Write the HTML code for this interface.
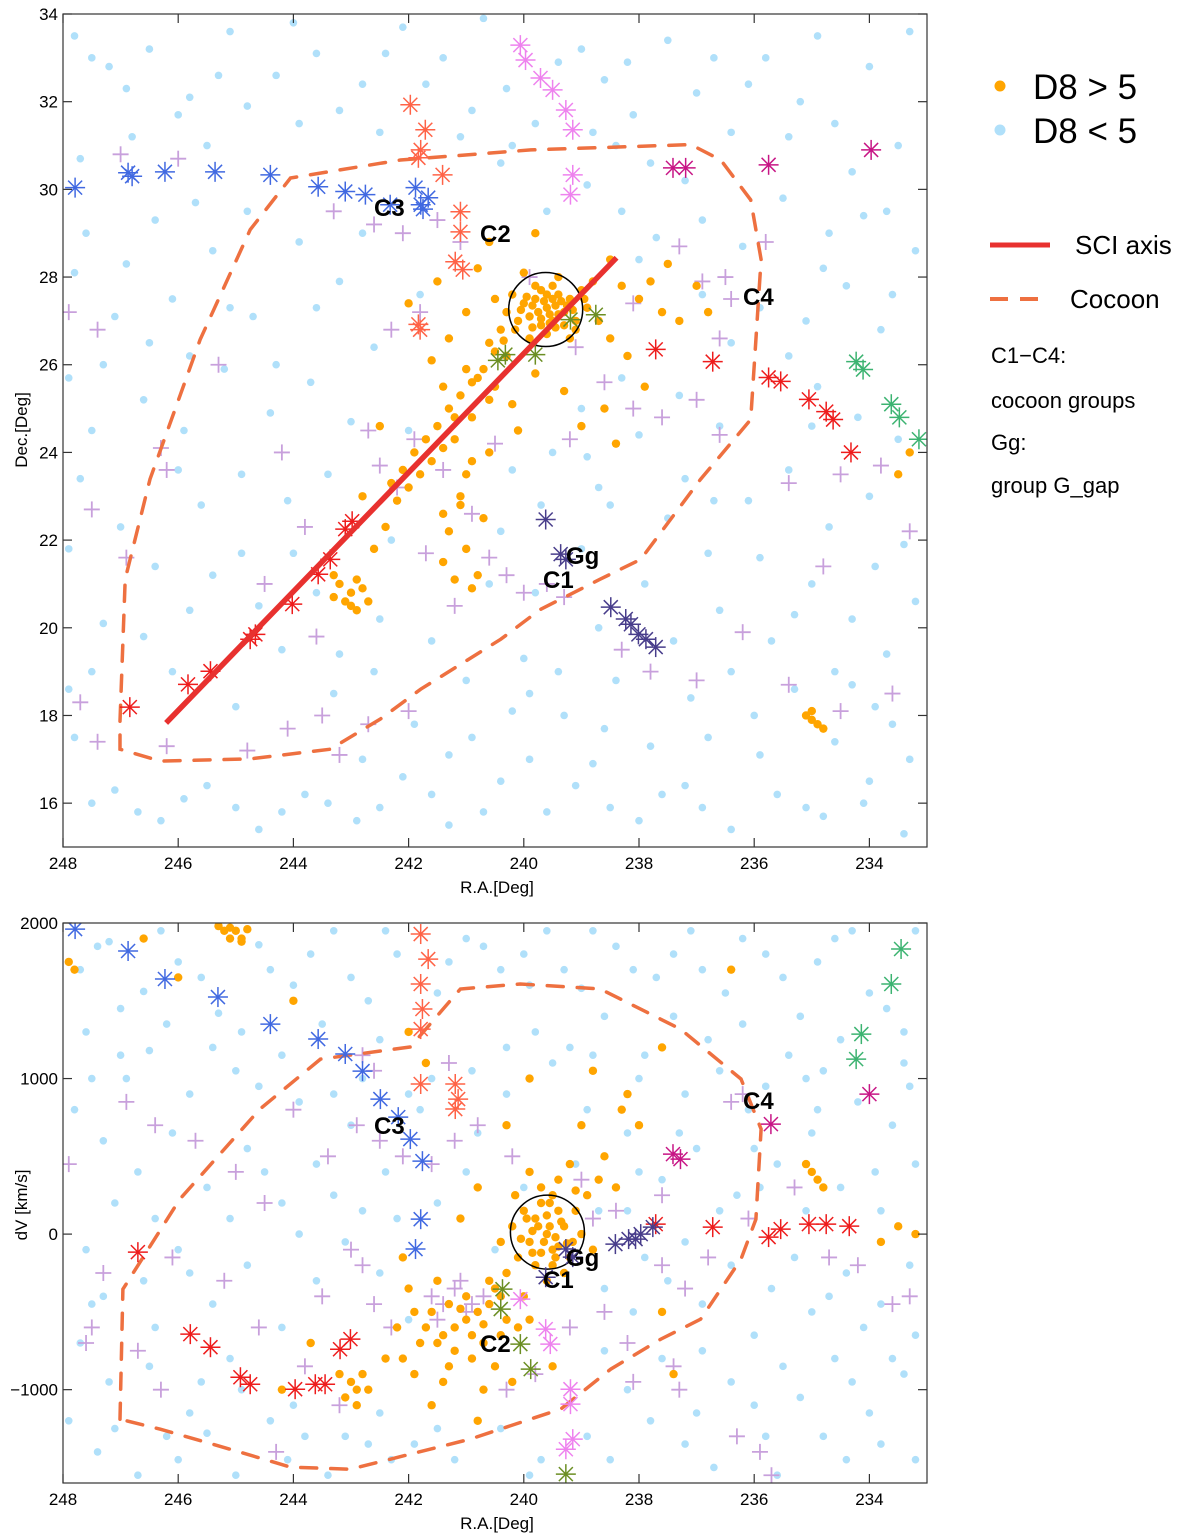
<!DOCTYPE html>
<html><head><meta charset="utf-8">
<style>
html,body{margin:0;padding:0;background:#fff;}
svg{display:block;font-family:"Liberation Sans",Arial,sans-serif;}
</style></head>
<body>
<svg id="fig" width="1200" height="1537" viewBox="0 0 1200 1537" xmlns="http://www.w3.org/2000/svg">
<g id="top"></g>
<g id="bot"></g>
<g id="legend">
  <circle cx="1000" cy="86" r="5.5" fill="#ffa500"/>
  <text x="1033" y="99" font-size="35">D8 &gt; 5</text>
  <circle cx="1000" cy="130" r="5.5" fill="#b0e0fa"/>
  <text x="1033" y="143" font-size="35">D8 &lt; 5</text>
  <line x1="990" y1="245" x2="1050" y2="245" stroke="#e8312f" stroke-width="5"/>
  <text x="1075" y="254" font-size="26">SCI axis</text>
  <line x1="990" y1="299" x2="1050" y2="299" stroke="#ee7040" stroke-width="4" stroke-dasharray="18,12"/>
  <text x="1070" y="308" font-size="26">Cocoon</text>
  <text x="991" y="363" font-size="22">C1−C4:</text>
  <text x="991" y="408" font-size="22">cocoon groups</text>
  <text x="991" y="450" font-size="22">Gg:</text>
  <text x="991" y="493" font-size="22">group G_gap</text>
</g>
</svg>
<script>
// ---------- data: top panel (R.A., Dec) ----------
const topBlue = [[247.8,33.5],[247.2,32.8],[246.5,33.2],[245.8,32.1],[245.1,33.6],[244.3,32.6],[243.6,33.1],[242.8,32.4],[242.1,33.7],[241.4,33.0],[240.7,33.9],[240.3,32.3],[239.8,31.5],[239.0,33.2],[238.6,32.5],[238.1,31.7],[237.5,33.4],[237.0,32.2],[236.4,31.3],[235.8,33.0],[235.2,32.0],[234.6,31.5],[234.0,32.8],[233.5,31.0],[233.3,33.6],[238.9,30.1],[238.3,29.5],[237.7,28.9],[238.0,28.4],[236.9,29.3],[236.2,28.7],[235.5,29.8],[234.8,28.2],[234.1,29.4],[233.6,27.6],[247.6,29.0],[246.9,28.3],[246.1,27.5],[245.4,28.6],[244.7,27.1],[243.9,28.8],[243.2,27.9],[242.6,26.4],[247.3,26.0],[246.6,25.2],[245.9,24.5],[245.2,25.9],[244.4,24.9],[243.7,25.6],[243.0,24.7],[247.7,23.4],[247.0,22.3],[246.4,21.4],[245.6,22.8],[244.9,21.7],[244.1,22.9],[243.4,23.5],[242.0,24.5],[242.3,22.0],[239.5,24.0],[238.7,23.2],[238.0,24.4],[237.3,25.3],[236.6,24.6],[237.5,22.5],[236.8,21.7],[236.1,22.9],[235.4,23.6],[234.7,22.3],[234.0,23.0],[233.4,21.9],[235.0,21.0],[234.3,20.2],[233.7,19.4],[235.7,19.7],[236.4,19.0],[237.1,18.4],[236.0,18.0],[235.3,18.6],[234.6,17.4],[233.9,18.2],[233.3,17.0],[239.0,21.8],[239.8,20.8],[240.6,21.0],[238.5,22.8],[240.0,19.3],[241.0,18.8],[241.6,19.7],[242.6,19.0],[243.3,18.5],[244.2,19.5],[245.0,18.2],[245.8,20.4],[246.6,19.8],[247.5,19.0],[247.8,17.5],[247.1,16.3],[246.3,15.6],[245.5,16.4],[244.6,15.4],[243.8,16.2],[242.9,15.6],[242.1,16.6],[241.3,15.5],[240.4,16.5],[239.6,15.8],[238.8,16.9],[238.0,15.6],[237.2,16.4],[236.4,15.4],[235.6,16.2],[234.8,15.7],[234.0,16.5],[233.4,15.3],[239.3,18.0],[238.4,18.8],[237.8,17.3],[240.9,17.5],[241.9,17.8],[242.5,20.2],[239.7,22.8],[240.2,23.6],[236.9,27.6],[236.4,26.5],[235.1,27.0],[234.4,27.8],[233.8,26.8],[235.0,24.6],[243.6,20.8],[244.6,20.5],[246.0,23.6],[242.8,29.0],[241.8,27.6],[240.4,30.6],[239.6,29.5],[240.9,31.8],[242.5,31.3],[243.9,31.5],[245.5,31.0],[246.8,31.2],[247.7,30.7],[237.2,30.2],[238.4,31.0],
[247.5,33.0],[246.9,32.3],[246.0,31.7],[245.3,32.6],[244.8,31.9],[244.0,33.8],[243.2,31.8],[242.4,33.1],[241.7,32.4],[241.1,31.2],[240.2,31.0],[239.4,32.9],[238.8,31.3],[238.2,32.9],[237.8,30.6],[236.7,33.0],[236.1,32.4],[235.4,31.2],[234.9,33.5],[234.3,30.4],[233.7,29.5],[233.2,28.6],[234.7,29.0],[235.9,27.3],[235.4,26.2],[234.9,25.5],[234.2,24.8],[233.5,24.3],[233.9,21.4],[233.2,20.6],[234.6,19.0],[235.3,20.3],[235.9,21.6],[236.6,20.4],[237.4,19.7],[236.8,17.5],[235.9,17.1],[234.3,18.7],[233.6,17.8],[234.1,16.0],[235.1,15.9],[236.9,15.9],[237.6,16.2],[238.5,15.9],[239.1,16.4],[239.9,17.0],[240.7,15.8],[241.6,16.2],[242.5,15.9],[243.4,16.0],[244.2,15.8],[245.0,15.9],[245.9,16.1],[246.7,15.8],[247.5,16.0],[247.9,18.6],[247.3,20.1],[247.9,21.8],[247.5,24.5],[247.9,25.7],[247.1,27.1],[247.8,28.1],[246.4,29.3],[245.7,29.7],[244.8,29.5],[246.5,26.5],[245.8,26.2],[245.1,27.3],[244.3,26.0],[243.6,27.3],[244.9,23.5],[245.4,21.2],[246.1,19.0],[244.0,21.7],[243.2,19.4],[242.8,17.0],[241.3,17.1],[240.2,18.1],[239.4,19.0],[238.7,20.0],[237.9,21.0],[238.9,23.9],[238.3,25.7],[239.0,25.0],[237.2,23.4],[236.7,22.9],[240.4,22.2],[239.9,18.5],[238.6,17.7]];
const topOrange = [[239.6,27.3],[239.8,27.5],[239.4,27.6],[239.5,27.0],[239.9,27.1],[239.3,27.2],[239.7,26.9],[239.2,27.5],[240.0,27.4],[239.5,27.8],[239.8,27.8],[239.3,26.9],[240.1,27.0],[239.6,26.7],[239.1,27.0],[240.2,27.6],[239.4,28.0],[239.0,27.7],[238.9,27.3],[240.3,27.2],[239.9,26.6],[239.2,26.6],[240.4,26.8],[240.5,27.5],[240.0,28.1],[238.8,27.9],[238.7,27.0],[240.6,26.5],[240.3,26.2],[240.7,25.9],[240.9,25.6],[241.1,25.3],[241.3,25.0],[241.5,24.6],[241.7,24.3],[241.9,24.0],[242.1,23.6],[242.3,23.3],[242.0,23.2],[241.6,23.8],[241.2,24.3],[240.9,24.8],[241.4,25.5],[240.5,25.5],[240.2,25.1],[241.0,23.5],[241.1,22.8],[241.3,22.2],[241.0,21.8],[240.8,21.2],[241.4,21.5],[240.7,22.5],[243.2,21.0],[243.0,20.8],[242.9,21.1],[243.1,20.6],[242.8,20.9],[243.3,20.7],[242.6,21.8],[242.4,22.3],[235.0,17.9],[234.9,17.8],[235.1,18.0],[234.8,17.7],[235.0,18.1],[238.3,27.8],[238.0,27.5],[237.8,27.9],[237.6,27.2],[237.3,27.0],[238.5,26.6],[238.2,26.2],[237.9,25.5],[238.6,25.0],[239.0,24.6],[239.8,25.8],[240.1,24.5],[238.5,28.4],[241.0,27.2],[241.3,26.6],[241.6,26.1],[240.8,28.2],[241.5,27.9],[242.0,27.4],[240.6,28.8],[239.8,29.0],[237.5,28.3],[237.0,27.8],[236.8,27.2],[238.4,24.2],[239.3,25.4],[240.6,24.0],[242.5,24.6],[242.8,23.0],[233.3,24.0],[233.5,23.5],
[239.55,27.15],[239.65,27.45],[239.45,27.35],[239.75,27.2],[239.35,27.45],[239.85,27.35],[239.6,27.6],[239.7,27.05],[239.45,26.85],[239.25,27.35],[239.95,27.55],[239.55,26.95],[239.85,26.85],[239.15,27.25],[240.05,27.25],[239.4,27.15],[239.7,27.7],[239.5,27.5],[240.15,26.8],[239.1,26.8],[238.95,27.5],[240.35,26.55],[240.5,26.3],[240.8,25.7],[241.0,25.9],[240.6,25.2],[241.2,24.8],[241.4,24.1],[241.8,23.5],[242.2,22.9],[241.1,23.0],[241.2,21.1],[240.9,20.9],[241.4,22.6],[240.9,23.8],[243.0,20.5],[242.7,20.6],[243.3,21.2],[242.9,20.4]];
const topLav = [[247.9,27.2],[247.4,26.8],[246.3,24.1],[247.5,22.7],[246.9,21.6],[247.7,18.3],[247.4,17.4],[246.2,23.6],[245.3,26.0],[244.2,24.0],[243.6,19.8],[243.8,22.3],[244.5,21.0],[243.5,18.0],[242.3,26.8],[242.6,29.2],[242.1,29.0],[241.5,29.3],[241.1,28.8],[242.7,24.5],[242.5,23.7],[242.2,23.2],[241.9,24.3],[241.4,23.6],[240.9,22.6],[240.6,21.6],[240.3,21.2],[239.2,24.3],[238.6,25.6],[238.1,25.0],[237.6,24.8],[237.0,25.2],[236.6,26.6],[236.9,27.9],[236.4,27.5],[237.3,28.7],[236.5,28.0],[235.8,28.8],[236.6,24.4],[235.4,23.3],[234.5,23.5],[233.8,23.7],[233.3,22.2],[234.8,21.4],[236.2,19.9],[237.0,18.8],[237.8,19.0],[238.3,19.5],[235.4,18.7],[234.5,18.1],[233.6,18.5],[242.0,18.1],[242.7,17.8],[243.2,17.1],[244.1,17.7],[244.8,17.2],[246.2,17.3],[241.7,21.7],[241.2,20.5],[240.0,20.8],[239.6,21.0],[239.3,20.7],[240.5,24.2],[239.1,26.4],[238.1,27.4],[239.9,28.0],[241.8,27.2],[243.3,29.5],[247.0,30.8],[246.0,30.7]];
const topGroups = [
 {name:'c3-blue',color:'#4169e1',pts:[[247.79,30.04],[246.87,30.38],[246.80,30.30],[246.23,30.40],[245.36,30.40],[244.40,30.33],[243.57,30.06],[243.10,29.95],[242.75,29.88],[242.32,29.65],[241.88,30.04],[241.79,29.65],[241.66,29.81],[241.75,29.55]]},
 {name:'c2-tomato',color:'#ff6347',pts:[[241.97,31.93],[241.71,31.36],[241.79,30.90],[241.83,30.72],[241.41,30.33],[241.10,29.49],[241.10,29.03],[241.19,28.35],[241.06,28.17],[241.83,26.92],[241.80,26.80]]},
 {name:'red-group',color:'#ee1c1c',pts:[[246.84,18.19],[245.83,18.71],[245.44,19.01],[244.75,19.74],[244.66,19.85],[244.02,20.54],[243.57,21.22],[243.36,21.56],[243.10,22.25],[242.98,22.43],[237.71,26.35],[236.72,26.07],[235.75,25.71],[235.54,25.62],[235.05,25.21],[234.75,24.93],[234.63,24.75],[234.32,24.00]]},
 {name:'violet-group',color:'#ee82ee',pts:[[240.06,33.29],[239.97,32.95],[239.71,32.54],[239.50,32.27],[239.27,31.81],[239.15,31.36],[239.15,30.33],[239.19,29.88]]},
 {name:'magenta-group',color:'#c71585',pts:[[237.41,30.49],[237.19,30.49],[235.75,30.56],[233.97,30.90]]},
 {name:'gg-purple',color:'#483d8b',pts:[[239.62,22.47],[239.36,21.68],[239.27,21.56],[238.49,20.47],[238.23,20.20],[238.14,20.08],[238.01,19.85],[237.88,19.74],[237.71,19.56]]},
 {name:'olive-group',color:'#6b8e23',pts:[[240.32,26.23],[240.45,26.1],[239.80,26.23],[239.19,27.03],[238.75,27.14]]},
 {name:'green-group',color:'#3cb371',pts:[[234.23,26.07],[234.11,25.89],[233.62,25.10],[233.48,24.80],[233.14,24.30]]}
];
const topCocoonRA = [247.01,246.92,246.49,245.62,244.75,244.05,242.14,239.88,237.10,236.58,236.06,235.88,235.97,236.06,236.93,237.97,238.67,239.71,240.40,241.79,242.49,243.36,244.75,246.31,247.01,247.01];
const topCocoonDec = [17.87,21.11,23.39,26.57,29.08,30.26,30.67,30.90,31.02,30.67,29.76,28.40,26.57,24.75,23.39,21.56,21.11,20.42,19.74,18.60,17.92,17.23,17.01,16.96,17.23,17.87];
const sciRA = [246.21,238.39];
const sciDec = [17.83,28.44];
const topTicksX = [248,246,244,242,240,238,236,234];
const topTicksY = [16,18,20,22,24,26,28,30,32,34];

// ---------- data: bottom panel (R.A., dV) ----------
const botBlue = [[247.7,1700],[247.2,1880],[246.6,1560],[246.0,1750],[245.3,1420],[244.6,1860],[244.0,1600],[243.3,1950],[242.7,1500],[242.2,1800],[241.0,1900],[240.4,1700],[239.6,1950],[239.0,1580],[238.4,1850],[237.7,1650],[237.1,1950],[236.5,1550],[235.8,1800],[235.2,1400],[234.6,1900],[234.0,1550],[233.4,1300],[233.2,1950],[247.6,1300],[247.0,1150],[246.5,1180],[245.0,1050],[244.2,1150],[243.5,1350],[242.5,1250],[239.8,1300],[239.2,1200],[238.6,1400],[237.9,1150],[237.4,1400],[236.8,1250],[236.2,1350],[235.4,1150],[234.8,1050],[234.2,850],[233.6,700],[233.3,950],[247.8,800],[247.3,600],[246.7,400],[246.1,650],[245.5,300],[244.8,550],[244.2,200],[243.6,450],[243.0,700],[242.4,400],[241.5,200],[240.8,650],[240.3,900],[238.9,800],[238.2,650],[237.6,350],[237.0,550],[236.3,250],[235.6,450],[235.1,150],[234.5,300],[233.8,150],[233.2,450],[247.6,-100],[247.3,-400],[246.6,-300],[246.0,-100],[245.4,-450],[244.8,-200],[244.2,-600],[243.6,-300],[243.1,-50],[242.5,-250],[242.0,-550],[238.6,-350],[238.1,-500],[237.5,-300],[236.9,-450],[236.4,-200],[235.7,-350],[235.0,-500],[234.4,-250],[233.8,-450],[233.3,-200],[247.7,-700],[247.2,-950],[246.5,-850],[245.8,-1150],[245.1,-800],[244.4,-1200],[243.8,-1300],[242.5,-1150],[241.9,-1350],[241.2,-1450],[240.4,-1250],[239.7,-1450],[238.9,-1300],[238.2,-1000],[237.6,-800],[237.0,-1150],[236.4,-950],[235.8,-1300],[235.2,-1050],[234.6,-800],[234.0,-1150],[233.4,-900],[233.2,-1450],[236.7,-1500],[235.6,-1550],[234.4,-1450],[247.4,-1400],[246.7,-1550],[246.2,-1300],[245.5,-1280],[244.9,-1000],[240.0,300],[239.1,450],[238.7,150],[241.8,800],[242.8,1000],[245.8,900],[246.9,1000],[243.9,850],[236.1,800],[235.0,650],[239.9,1600],[241.5,1550],[244.9,1300],
[247.4,1850],[246.3,1950],[245.6,1650],[244.4,1700],[243.7,1800],[243.0,1650],[242.4,1950],[241.3,1750],[240.7,1850],[240.0,1800],[239.3,1700],[238.8,1950],[238.1,1700],[237.4,1800],[236.9,1700],[236.2,1900],[235.5,1650],[234.9,1750],[234.3,1950],[233.7,1450],[233.4,1100],[234.5,1250],[235.1,1000],[235.8,950],[236.6,1050],[237.2,900],[238.0,1000],[238.8,1150],[239.5,1100],[240.3,1200],[240.9,1050],[241.6,1000],[242.0,900],[243.3,900],[244.6,950],[245.4,1200],[246.2,1350],[247.0,1450],[247.5,1000],[247.1,200],[246.4,100],[245.8,-250],[245.1,100],[244.5,400],[243.9,0],[243.3,250],[242.8,150],[242.2,100],[241.0,400],[240.5,-100],[238.2,150],[237.9,-150],[237.2,-50],[236.6,150],[235.9,300],[235.3,-150],[234.7,-400],[234.1,-600],[233.6,-800],[233.2,-650],[234.3,-950],[235.5,-850],[236.0,-650],[236.9,-750],[237.8,-1200],[238.5,-1450],[239.9,-1550],[241.5,-1250],[242.3,-1450],[243.1,-1300],[244.0,-1100],[245.6,-950],[246.4,-600],[247.5,-450],[247.9,-1200],[247.1,-1250],[246.0,-1450],[245.0,-1550],[244.1,-1450],[243.4,-1550],[242.7,-1350],[238.6,-750],[237.2,-1350],[236.0,-1100],[234.8,-1300],[233.8,-1350],[238.0,400],[237.3,650],[236.0,550],[234.9,800],[233.9,400]];
const botOrange = [[239.6,0],[239.8,100],[239.4,150],[239.5,-100],[239.9,-50],[239.3,50],[239.7,200],[239.2,-150],[240.0,150],[239.5,250],[239.8,-200],[239.3,-250],[240.1,-150],[239.6,-300],[239.1,150],[240.2,50],[239.4,350],[239.0,0],[238.9,250],[240.3,-250],[239.9,400],[239.2,450],[240.4,-50],[240.5,-350],[240.0,-400],[238.8,-100],[238.7,350],[240.6,-450],[240.8,-500],[241.0,-550],[241.2,-600],[241.4,-650],[241.6,-500],[241.8,-700],[241.0,-400],[240.7,-700],[240.9,-800],[241.3,-850],[241.5,-300],[242.0,-350],[242.2,-600],[242.4,-800],[241.9,-900],[240.4,-650],[240.1,-600],[239.9,-550],[240.5,-850],[240.2,-950],[243.0,-950],[242.9,-1000],[242.8,-900],[243.1,-1050],[242.7,-1000],[245.0,1950],[245.2,1950],[244.9,1900],[245.1,1900],[245.3,1980],[247.9,1750],[247.8,1700],[246.0,1650],[235.0,400],[234.9,350],[235.1,450],[234.8,300],[233.5,50],[233.2,0],[233.8,-50],[238.4,300],[238.6,500],[238.0,700],[238.3,800],[239.0,700],[240.3,700],[240.8,300],[241.1,100],[242.0,1300],[241.7,1100],[239.9,1000],[238.2,900],[237.6,1200],[238.8,1050],[243.7,-700],[244.2,-1000],[241.6,-1100],[240.8,-1200],[239.5,-850],[242.1,-150],[237.6,-500],[237.4,-900],[236.4,1700],[244.0,1500],[246.6,1900],
[239.55,50],[239.65,-50],[239.45,-20],[239.75,50],[239.35,80],[239.85,20],[239.6,120],[239.7,-120],[239.45,-150],[239.25,-60],[239.95,100],[239.55,200],[239.85,-120],[239.15,-50],[240.05,-30],[239.4,-80],[239.7,300],[239.5,-200],[240.15,250],[239.1,280],[240.4,-400],[240.7,-580],[241.1,-480],[241.3,-450],[241.5,-700],[241.7,-600],[241.2,-750],[240.9,-650],[241.9,-500],[242.1,-800],[240.6,-300],[240.3,-550],[241.4,-950],[240.7,-1000],[243.2,-900],[242.9,-1100],[244.9,1880],[245.1,1970],[244.8,1960]];
const botLav = [[247.9,450],[247.3,-250],[246.9,850],[246.4,700],[245.7,600],[245.0,400],[244.5,200],[244.0,800],[243.4,500],[242.9,700],[242.5,600],[242.1,500],[241.6,450],[241.2,600],[240.8,700],[243.0,-100],[242.8,-200],[241.6,-400],[241.4,-450],[241.2,-350],[241.0,-500],[240.9,-450],[241.5,-550],[241.1,-300],[240.7,-400],[242.3,-600],[242.6,-450],[243.8,-850],[244.6,-600],[245.2,-300],[246.1,-150],[247.5,-600],[247.6,-700],[246.7,-750],[244.3,-1400],[243.2,-1100],[240.3,-1000],[239.8,-900],[239.2,-600],[238.6,-500],[238.2,-700],[237.6,-200],[237.2,-350],[236.8,-150],[236.1,100],[235.3,300],[234.7,-150],[234.2,-200],[233.6,-450],[233.3,-400],[237.4,-850],[236.3,-1300],[235.9,-1400],[235.7,-1550],[238.8,100],[238.4,150],[239.0,350],[237.6,250],[238.1,-950],[237.3,-1000],[236.2,900],[236.4,850],[241.3,1100],[242.8,1150],[246.3,-1000],[243.5,-400],[240.2,500],[242.6,1050]];
const botGroups = [
 {name:'c3-blue',color:'#4169e1',pts:[[247.79,1961],[246.87,1820],[246.23,1640],[245.31,1524],[244.40,1350],[243.57,1254],[243.10,1158],[242.80,1048],[242.49,868],[242.18,752],[241.97,611],[241.76,469],[241.79,96],[241.88,-96]]},
 {name:'c2-tomato',color:'#ff6347',pts:[[241.79,1929],[241.66,1768],[241.79,1608],[241.76,1447],[241.79,1318],[241.79,965],[241.19,965],[241.14,868],[241.19,804]]},
 {name:'red-group',color:'#ee1c1c',pts:[[246.70,-116],[245.79,-643],[245.44,-727],[244.92,-920],[244.75,-965],[243.97,-997],[243.62,-965],[243.45,-965],[243.19,-740],[243.01,-675],[237.71,64],[236.72,45],[235.75,-19],[235.54,32],[235.05,64],[234.75,64],[234.35,51]]},
 {name:'violet-group',color:'#ee82ee',pts:[[240.06,-418],[239.62,-611],[239.54,-707],[239.19,-997],[239.19,-1093],[239.15,-1318],[239.27,-1383]]},
 {name:'magenta-group',color:'#c71585',pts:[[237.41,514],[237.28,482],[235.71,707],[234.0,900]]},
 {name:'gg-purple',color:'#483d8b',pts:[[239.62,-277],[239.27,-96],[239.15,-148],[238.41,-64],[238.18,-32],[238.06,-32],[237.97,0],[237.76,45]]},
 {name:'olive-group',color:'#6b8e23',pts:[[240.37,-354],[240.40,-482],[240.06,-707],[239.88,-868],[239.27,-1543]]},
 {name:'green-group',color:'#3cb371',pts:[[233.45,1833],[233.62,1608],[234.14,1286],[234.23,1125]]}
];
const botCocoonRA = [247.01,246.96,245.97,244.58,243.53,241.97,241.10,240.06,238.67,237.28,236.23,235.88,235.97,236.23,236.93,237.62,238.49,239.36,240.93,243.01,244.05,245.10,246.31,247.01];
const botCocoonDV = [-1190,-354,225,804,1125,1203,1576,1608,1576,1318,997,675,96,-161,-547,-675,-868,-1125,-1318,-1511,-1498,-1383,-1254,-1190];
const botTicksX = [248,246,244,242,240,238,236,234];
const botTicksY = [-1000,0,1000,2000];

// ---------- axes ----------
const L=63,R=927;
const TT=14,TB=847,BT=923,BB=1483;
function xS(ra){return L+(248-ra)/15*(R-L);}
function yTop(d){return TB-(d-15)/19*(TB-TT);}
function yBot(v){return BB-(v+1600)/3600*(BB-BT);}

const NS='http://www.w3.org/2000/svg';
function mk(tag,attrs,parent){const e=document.createElementNS(NS,tag);for(const k in attrs)e.setAttribute(k,attrs[k]);parent.appendChild(e);return e;}

function drawPanel(g,yf,top,bot,blue,orange,lav,groups,cRA,cY,ticksX,ticksY,ylabel,ylabX,ylabY,labels,circ){
  const clipId='clip'+top;
  const defs=mk('defs',{},g);
  const cp=mk('clipPath',{id:clipId},defs);
  mk('rect',{x:L,y:top,width:R-L,height:bot-top},cp);
  const pg=mk('g',{'clip-path':'url(#'+clipId+')'},g);
  
  
  blue.forEach(p=>{const c=mk('circle',{cx:xS(p[0]),cy:yf(p[1]),r:3.8,fill:'#b0e0fa'},pg);
    
    });
  lav.forEach(p=>{const x=xS(p[0]),y=yf(p[1]);
    const gg=mk('g',{stroke:'#c8a0dc','stroke-width':1.8},pg);
    
    
    mk('line',{x1:x-8,y1:y,x2:x+8,y2:y},gg);mk('line',{x1:x,y1:y-8,x2:x,y2:y+8},gg);});
  orange.forEach(p=>{const c=mk('circle',{cx:xS(p[0]),cy:yf(p[1]),r:4.2,fill:'#ffa500'},pg);
    
    });
  let d='';cRA.forEach((r,i)=>{d+=(i?'L':'M')+xS(r).toFixed(1)+','+yf(cY[i]).toFixed(1);});
  const cc=mk('path',{d:d,fill:'none',stroke:'#ee7040','stroke-width':3.5,'stroke-dasharray':'16,14','stroke-linecap':'round'},pg);
  
  
  if(circ){const ci=mk('circle',{cx:xS(circ[0]),cy:yf(circ[1]),r:37,fill:'none',stroke:'#000','stroke-width':1.5},pg);
    
    }
  groups.forEach(gr=>{gr.pts.forEach(p=>{const x=xS(p[0]),y=yf(p[1]);
    const gg=mk('g',{stroke:gr.color,'stroke-width':1.5},pg);
    
    
    const s=10;
    mk('line',{x1:x-s,y1:y,x2:x+s,y2:y},gg);mk('line',{x1:x,y1:y-s,x2:x,y2:y+s},gg);
    mk('line',{x1:x-s*0.7,y1:y-s*0.7,x2:x+s*0.7,y2:y+s*0.7},gg);mk('line',{x1:x-s*0.7,y1:y+s*0.7,x2:x+s*0.7,y2:y-s*0.7},gg);});});
  if(top===TT){const sl=mk('line',{x1:xS(sciRA[0]),y1:yf(sciDec[0]),x2:xS(sciRA[1]),y2:yf(sciDec[1]),stroke:'#e8312f','stroke-width':5.5},pg);
    
    }
  labels.forEach(l=>{const t=mk('text',{x:l[1],y:l[2],'font-size':24,'font-weight':'bold'},g);t.textContent=l[0];
    
    });
  const fr=mk('rect',{x:L,y:top,width:R-L,height:bot-top,fill:'none',stroke:'#333','stroke-width':1.2},g);
  
  
  ticksX.forEach(t=>{const x=xS(t);
    mk('line',{x1:x,y1:bot,x2:x,y2:bot-9,stroke:'#333','stroke-width':1.2},g);
    mk('line',{x1:x,y1:top,x2:x,y2:top+9,stroke:'#333','stroke-width':1.2},g);
    const tx=mk('text',{x:x,y:bot+22,'font-size':17,'text-anchor':'middle'},g);tx.textContent=t;
    
    });
  ticksY.forEach(t=>{const y=yf(t);
    mk('line',{x1:L,y1:y,x2:L+9,y2:y,stroke:'#333','stroke-width':1.2},g);
    mk('line',{x1:R,y1:y,x2:R-9,y2:y,stroke:'#333','stroke-width':1.2},g);
    const ty=mk('text',{x:L-5,y:y+6,'font-size':17,'text-anchor':'end'},g);ty.textContent=String(t).replace('-','−');
    
    });
  const xl=mk('text',{x:497,y:bot+46,'font-size':17,'text-anchor':'middle'},g);xl.textContent='R.A.[Deg]';
  
  
  const yl=mk('text',{x:ylabX,y:ylabY,'font-size':17,'text-anchor':'middle',transform:'rotate(-90 '+ylabX+' '+ylabY+')'},g);yl.textContent=ylabel;
  
  
}
drawPanel(document.getElementById('top'),yTop,TT,TB,topBlue,topOrange,topLav,topGroups,topCocoonRA,topCocoonDec,topTicksX,topTicksY,'Dec.[Deg]',27,430,
  [['C3',374,216],['C2',480,242],['C4',743,305],['Gg',566,564],['C1',543,588]],[239.62,27.26]);
drawPanel(document.getElementById('bot'),yBot,BT,BB,botBlue,botOrange,botLav,botGroups,botCocoonRA,botCocoonDV,botTicksX,botTicksY,'dV [km/s]',27,1205,
  [['C3',374,1134],['C4',743,1109],['Gg',566,1266],['C1',543,1288],['C2',480,1352]],[239.59,13]);
</script>
</body></html>
